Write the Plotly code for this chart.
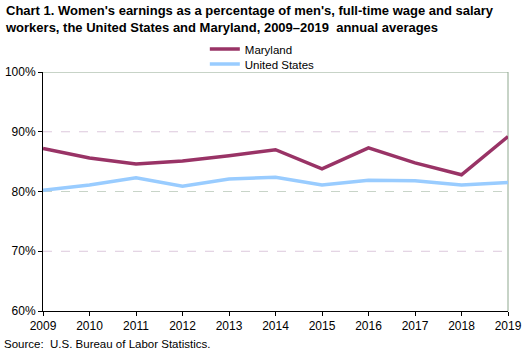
import plotly.graph_objects as go

years = [2009, 2010, 2011, 2012, 2013, 2014, 2015, 2016, 2017, 2018, 2019]
maryland = [87.2, 85.6, 84.6, 85.1, 86.0, 87.0, 83.8, 87.3, 84.8, 82.8, 89.2]
united_states = [80.2, 81.1, 82.3, 80.9, 82.1, 82.4, 81.1, 81.9, 81.8, 81.1, 81.5]
y_ticks = [60, 70, 80, 90, 100]
y_labels = ["60%", "70%", "80%", "90%", "100%"]
grid_colors = {70: "#dcc8dc", 80: "#c8d4c8", 90: "#dcc8dc"}

fig = go.Figure()
fig.add_trace(go.Scatter(x=years, y=maryland, name="Maryland", mode="lines",
                         line=dict(color="#993366", width=3.5), legend="legend"))
fig.add_trace(go.Scatter(x=years, y=united_states, name="United States", mode="lines",
                         line=dict(color="#99ccff", width=3.5), legend="legend2"))

shapes = []
for v, c in grid_colors.items():
    shapes.append(dict(type="line", xref="paper", yref="y", x0=0, x1=1, y0=v, y1=v,
                       line=dict(color=c, width=1, dash="dash"), layer="below"))
shapes.append(dict(type="line", xref="paper", yref="y", x0=0, x1=1, y0=100, y1=100,
                   line=dict(color="#8fa88f", width=1), layer="below"))
shapes.append(dict(type="line", xref="paper", yref="paper", x0=1, x1=1, y0=0, y1=1,
                   line=dict(color="#8fa88f", width=1), layer="below"))

leg_common = dict(xanchor="left", yanchor="middle", font=dict(size=11.5),
                  itemwidth=30, bgcolor="rgba(0,0,0,0)")

fig.update_layout(
    width=530, height=354,
    margin=dict(l=43, r=22, t=72, b=43),
    paper_bgcolor="white", plot_bgcolor="white",
    font=dict(family="Arial, Liberation Sans, sans-serif", size=12, color="black"),
    showlegend=True,
    legend=dict(x=0.348, y=1 + 23/239, **leg_common),
    legend2=dict(x=0.348, y=1 + 8/239, **leg_common),
    shapes=shapes,
    xaxis=dict(range=[2009, 2019], tickvals=years, ticktext=[str(y) for y in years],
               showgrid=False, zeroline=False, showline=True, linecolor="black",
               linewidth=1, ticks="outside", ticklen=4, tickcolor="black",
               tickfont=dict(size=12), automargin=False),
    yaxis=dict(range=[60, 100], tickvals=y_ticks, ticktext=y_labels,
               showgrid=False, zeroline=False, showline=True, linecolor="black",
               linewidth=1, ticks="outside", ticklen=4, tickcolor="black",
               tickfont=dict(size=12), automargin=False),
    annotations=[
        dict(text="<b>Chart 1. Women's earnings as a percentage of men's, full-time wage and salary<br>workers, the United States and Maryland, 2009–2019  annual averages</b>",
             xref="paper", yref="paper", x=-40/465, y=1 + 71/239, xanchor="left", yanchor="top",
             align="left", showarrow=False, font=dict(size=13)),
        dict(text="Source:  U.S. Bureau of Labor Statistics.",
             xref="paper", yref="paper", x=-41/465, y=-25/239, xanchor="left", yanchor="top",
             align="left", showarrow=False, font=dict(size=11.5)),
    ],
)

fig.write_html("out.html")
